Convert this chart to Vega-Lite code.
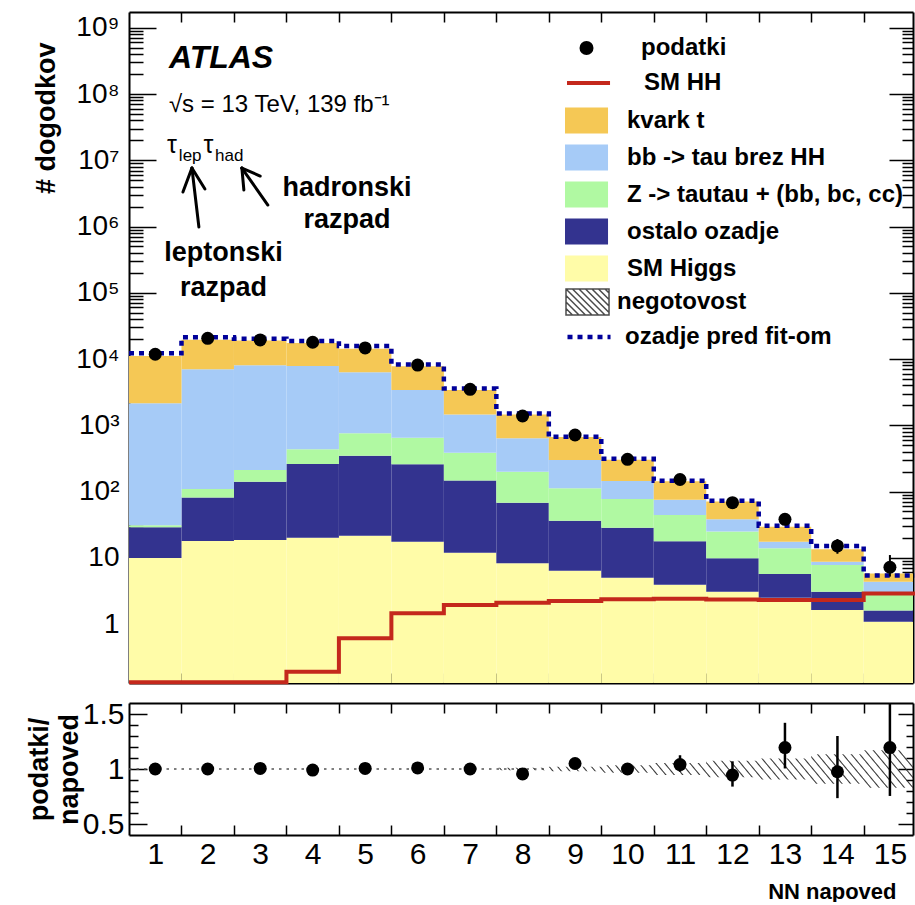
{
  "$schema": "https://vega.github.io/schema/vega-lite/v6.json",
  "padding": {"left": 25, "top": 11, "right": 0, "bottom": 0},
  "background": "white",
  "config": {
    "view": {"stroke": null},
    "font": "Liberation Sans",
    "axis": {"domainColor": "black", "domainWidth": 2, "tickColor": "black", "tickWidth": 1.5, "grid": false, "labelColor": "black", "titleColor": "black", "zindex": 1, "labelOverlap": false, "labelFlush": false, "labelFont": "Liberation Sans", "titleFont": "Liberation Sans"},
    "legend": {"labelFont": "Liberation Sans", "labelFontSize": 24, "labelFontWeight": "bold", "labelColor": "black", "labelLimit": 0, "padding": 0, "direction": "vertical"}
  },
  "datasets": {
    "hist": [
      {"bin": 1, "lo": 0.5, "hi": 1.5, "higgs": 9.9, "other": 29, "ztt": 31, "bbtau": 2150, "top": 11100, "prefit": 12200, "hh": 0.132, "data": 11800, "dlo": 11690, "dhi": 11910},
      {"bin": 2, "lo": 1.5, "hi": 2.5, "higgs": 17.9, "other": 81, "ztt": 109, "bbtau": 7000, "top": 19500, "prefit": 21300, "hh": 0.132, "data": 20500, "dlo": 20360, "dhi": 20640},
      {"bin": 3, "lo": 2.5, "hi": 3.5, "higgs": 18.5, "other": 141, "ztt": 211, "bbtau": 8040, "top": 19000, "prefit": 20300, "hh": 0.132, "data": 19400, "dlo": 19260, "dhi": 19540},
      {"bin": 4, "lo": 3.5, "hi": 4.5, "higgs": 20.1, "other": 260, "ztt": 433, "bbtau": 7840, "top": 17500, "prefit": 18700, "hh": 0.19, "data": 17900, "dlo": 17770, "dhi": 18030},
      {"bin": 5, "lo": 4.5, "hi": 5.5, "higgs": 21.5, "other": 347, "ztt": 755, "bbtau": 6300, "top": 14300, "prefit": 15700, "hh": 0.61, "data": 14700, "dlo": 14580, "dhi": 14820},
      {"bin": 6, "lo": 5.5, "hi": 6.5, "higgs": 17.5, "other": 257, "ztt": 649, "bbtau": 3400, "top": 7800, "prefit": 8300, "hh": 1.45, "data": 8110, "dlo": 8020, "dhi": 8200},
      {"bin": 7, "lo": 6.5, "hi": 7.5, "higgs": 11.9, "other": 147, "ztt": 385, "bbtau": 1460, "top": 3400, "prefit": 3600, "hh": 1.94, "data": 3490, "dlo": 3430, "dhi": 3550},
      {"bin": 8, "lo": 7.5, "hi": 8.5, "higgs": 8.24, "other": 67.8, "ztt": 199, "bbtau": 635, "top": 1450, "prefit": 1510, "hh": 2.1, "data": 1380, "dlo": 1343, "dhi": 1417},
      {"bin": 9, "lo": 8.5, "hi": 9.5, "higgs": 6.38, "other": 36.3, "ztt": 112, "bbtau": 299, "top": 665, "prefit": 671, "hh": 2.22, "data": 713, "dlo": 686, "dhi": 740},
      {"bin": 10, "lo": 9.5, "hi": 10.5, "higgs": 5.0, "other": 28.4, "ztt": 77, "bbtau": 144, "top": 303, "prefit": 312, "hh": 2.36, "data": 306, "dlo": 289, "dhi": 324},
      {"bin": 11, "lo": 10.5, "hi": 11.5, "higgs": 3.9, "other": 17.7, "ztt": 44.2, "bbtau": 75, "top": 143, "prefit": 146, "hh": 2.41, "data": 152, "dlo": 140, "dhi": 165},
      {"bin": 12, "lo": 11.5, "hi": 12.5, "higgs": 3.07, "other": 9.8, "ztt": 25, "bbtau": 38, "top": 71, "prefit": 72.5, "hh": 2.34, "data": 68, "dlo": 60, "dhi": 77},
      {"bin": 13, "lo": 12.5, "hi": 13.5, "higgs": 2.5, "other": 5.7, "ztt": 13.9, "bbtau": 17.5, "top": 29.5, "prefit": 30.5, "hh": 2.3, "data": 38, "dlo": 32, "dhi": 45},
      {"bin": 14, "lo": 13.5, "hi": 14.5, "higgs": 1.63, "other": 3.07, "ztt": 7.8, "bbtau": 8.7, "top": 13.5, "prefit": 15.0, "hh": 2.3, "data": 15.1, "dlo": 11.5, "dhi": 19.2},
      {"bin": 15, "lo": 14.5, "hi": 15.5, "higgs": 1.08, "other": 1.6, "ztt": 3.0, "bbtau": 4.35, "top": 5.8, "prefit": 5.4, "hh": 2.88, "data": 7.2, "dlo": 5.2, "dhi": 11.0}
    ],
    "ratio": [
      {"bin": 1, "lo": 0.5, "hi": 1.5, "r": 1.0, "rlo": 0.99, "rhi": 1.01, "blo": 0.996, "bhi": 1.004},
      {"bin": 2, "lo": 1.5, "hi": 2.5, "r": 1.0, "rlo": 0.99, "rhi": 1.01, "blo": 0.996, "bhi": 1.004},
      {"bin": 3, "lo": 2.5, "hi": 3.5, "r": 1.005, "rlo": 0.995, "rhi": 1.015, "blo": 0.995, "bhi": 1.005},
      {"bin": 4, "lo": 3.5, "hi": 4.5, "r": 0.99, "rlo": 0.98, "rhi": 1.0, "blo": 0.995, "bhi": 1.005},
      {"bin": 5, "lo": 4.5, "hi": 5.5, "r": 1.005, "rlo": 0.995, "rhi": 1.015, "blo": 0.994, "bhi": 1.006},
      {"bin": 6, "lo": 5.5, "hi": 6.5, "r": 1.01, "rlo": 0.998, "rhi": 1.022, "blo": 0.993, "bhi": 1.007},
      {"bin": 7, "lo": 6.5, "hi": 7.5, "r": 1.0, "rlo": 0.985, "rhi": 1.015, "blo": 0.992, "bhi": 1.008},
      {"bin": 8, "lo": 7.5, "hi": 8.5, "r": 0.955, "rlo": 0.93, "rhi": 0.98, "blo": 0.988, "bhi": 1.012},
      {"bin": 9, "lo": 8.5, "hi": 9.5, "r": 1.05, "rlo": 1.015, "rhi": 1.085, "blo": 0.98, "bhi": 1.02},
      {"bin": 10, "lo": 9.5, "hi": 10.5, "r": 1.0, "rlo": 0.96, "rhi": 1.04, "blo": 0.965, "bhi": 1.035},
      {"bin": 11, "lo": 10.5, "hi": 11.5, "r": 1.04, "rlo": 0.975, "rhi": 1.125, "blo": 0.945, "bhi": 1.055},
      {"bin": 12, "lo": 11.5, "hi": 12.5, "r": 0.945, "rlo": 0.84, "rhi": 1.07, "blo": 0.925, "bhi": 1.075},
      {"bin": 13, "lo": 12.5, "hi": 13.5, "r": 1.195, "rlo": 1.005, "rhi": 1.42, "blo": 0.905, "bhi": 1.095},
      {"bin": 14, "lo": 13.5, "hi": 14.5, "r": 0.975, "rlo": 0.735, "rhi": 1.3, "blo": 0.865, "bhi": 1.135},
      {"bin": 15, "lo": 14.5, "hi": 15.5, "r": 1.195, "rlo": 0.755, "rhi": 1.75, "blo": 0.83, "bhi": 1.17}
    ]
  },
  "spacing": 8,
  "vconcat": [
    {
      "width": 784,
      "height": 671,
      "data": {"name": "hist"},
      "resolve": {"axis": {"x": "independent", "y": "independent"}},
      "layer": [
        {
          "mark": {"type": "rect", "clip": true},
          "encoding": {
            "x": {"field": "lo", "type": "quantitative", "scale": {"domain": [0.5, 15.44], "nice": false, "zero": false},
              "axis": {"orient": "bottom", "values": [1.5,2.5,3.5,4.5,5.5,6.5,7.5,8.5,9.5,10.5,11.5,12.5,13.5,14.5], "labels": false, "tickSize": -10, "title": null}},
            "x2": {"field": "hi"},
            "y": {"field": "higgs", "type": "quantitative", "scale": {"type": "log", "domain": [0.1288, 1730000000], "nice": false},
              "axis": {"orient": "left",
                "values": [0.2,0.3,0.4,0.5,0.6,0.7,0.8,0.9,1,2,3,4,5,6,7,8,9,10,20,30,40,50,60,70,80,90,100,200,300,400,500,600,700,800,900,1000,2000,3000,4000,5000,6000,7000,8000,9000,10000,20000,30000,40000,50000,60000,70000,80000,90000,100000,200000,300000,400000,500000,600000,700000,800000,900000,1000000,2000000,3000000,4000000,5000000,6000000,7000000,8000000,9000000,10000000,20000000,30000000,40000000,50000000,60000000,70000000,80000000,90000000,100000000,200000000,300000000,400000000,500000000,600000000,700000000,800000000,900000000,1000000000],
                "tickSize": {"condition": {"test": "indexof([1,10,100,1000,10000,100000,1000000,10000000,100000000,1000000000], datum.value) >= 0", "value": -27}, "value": -14},
                "labelExpr": "datum.value===1?'1':datum.value===10?'10':datum.value===100?'10²':datum.value===1000?'10³':datum.value===10000?'10⁴':datum.value===100000?'10⁵':datum.value===1000000?'10⁶':datum.value===10000000?'10⁷':datum.value===100000000?'10⁸':datum.value===1000000000?'10⁹':''",
                "labelFontSize": 28, "labelPadding": 37,
                "title": "# dogodkov", "titleFontSize": 27, "titleFontWeight": "bold", "titleX": -83, "titleY": 30, "titleAlign": "right", "titleAngle": -90, "titleBaseline": "middle"}},
            "y2": {"datum": 0.1288},
            "color": {"datum": "SM Higgs", "type": "nominal",
              "scale": {"domain": ["kvark t", "bb -> tau brez HH", "Z -> tautau + (bb, bc, cc)", "ostalo ozadje", "SM Higgs"],
                "range": ["#f5c855", "#a6cbf7", "#b0f9a2", "#33338f", "#fffca8"]},
              "legend": {"orient": "none", "legendX": 436, "legendY": 95.5, "title": null, "symbolType": "M-1,-1H2.31V1H-1Z", "symbolSize": 676, "symbolStrokeWidth": 0, "symbolOffset": 0, "labelOffset": 36, "rowPadding": 11}}
          }
        },
        {
          "mark": {"type": "rect", "clip": true},
          "encoding": {
            "x": {"field": "lo", "type": "quantitative",
              "axis": {"orient": "top", "values": [1.5,2.5,3.5,4.5,5.5,6.5,7.5,8.5,9.5,10.5,11.5,12.5,13.5,14.5], "labels": false, "tickSize": -10, "title": null}},
            "x2": {"field": "hi"},
            "y": {"field": "other", "type": "quantitative",
              "axis": {"orient": "right", "labels": false, "title": null,
                "values": [0.2,0.3,0.4,0.5,0.6,0.7,0.8,0.9,1,2,3,4,5,6,7,8,9,10,20,30,40,50,60,70,80,90,100,200,300,400,500,600,700,800,900,1000,2000,3000,4000,5000,6000,7000,8000,9000,10000,20000,30000,40000,50000,60000,70000,80000,90000,100000,200000,300000,400000,500000,600000,700000,800000,900000,1000000,2000000,3000000,4000000,5000000,6000000,7000000,8000000,9000000,10000000,20000000,30000000,40000000,50000000,60000000,70000000,80000000,90000000,100000000,200000000,300000000,400000000,500000000,600000000,700000000,800000000,900000000,1000000000],
                "tickSize": {"condition": {"test": "indexof([1,10,100,1000,10000,100000,1000000,10000000,100000000,1000000000], datum.value) >= 0", "value": -24}, "value": -11}}},
            "y2": {"field": "higgs"},
            "color": {"datum": "ostalo ozadje", "type": "nominal"}
          }
        },
        {
          "mark": {"type": "rect", "clip": true},
          "encoding": {
            "x": {"field": "lo", "type": "quantitative", "axis": null},
            "x2": {"field": "hi"},
            "y": {"field": "ztt", "type": "quantitative", "axis": null},
            "y2": {"field": "other"},
            "color": {"datum": "Z -> tautau + (bb, bc, cc)", "type": "nominal"}
          }
        },
        {
          "mark": {"type": "rect", "clip": true},
          "encoding": {
            "x": {"field": "lo", "type": "quantitative", "axis": null},
            "x2": {"field": "hi"},
            "y": {"field": "bbtau", "type": "quantitative", "axis": null},
            "y2": {"field": "ztt"},
            "color": {"datum": "bb -> tau brez HH", "type": "nominal"}
          }
        },
        {
          "mark": {"type": "rect", "clip": true},
          "encoding": {
            "x": {"field": "lo", "type": "quantitative", "axis": null},
            "x2": {"field": "hi"},
            "y": {"field": "top", "type": "quantitative", "axis": null},
            "y2": {"field": "bbtau"},
            "color": {"datum": "kvark t", "type": "nominal"}
          }
        },
        {
          "transform": [{"fold": ["lo", "hi"], "as": ["side", "edge"]}],
          "mark": {"type": "line", "strokeWidth": 4, "strokeJoin": "miter"},
          "encoding": {
            "x": {"field": "edge", "type": "quantitative", "axis": null},
            "y": {"field": "hh", "type": "quantitative", "axis": null},
            "order": [{"field": "edge", "type": "quantitative"}, {"field": "bin", "type": "quantitative"}],
            "stroke": {"datum": "SM HH", "type": "nominal", "scale": {"domain": ["SM HH"], "range": ["#c4281c"]},
              "legend": {"orient": "none", "legendX": 436, "legendY": 56, "title": null, "symbolType": "M-1,0H2.31", "symbolSize": 676, "symbolStrokeWidth": 4, "symbolOffset": 0, "labelOffset": 49}}
          }
        },
        {
          "transform": [{"fold": ["lo", "hi"], "as": ["side", "edge"]}],
          "mark": {"type": "line", "strokeWidth": 4.5, "color": "#00009a", "strokeJoin": "miter"},
          "encoding": {
            "x": {"field": "edge", "type": "quantitative", "axis": null},
            "y": {"field": "prefit", "type": "quantitative", "axis": null},
            "order": [{"field": "edge", "type": "quantitative"}, {"field": "bin", "type": "quantitative"}],
            "strokeDash": {"datum": "ozadje pred fit-om", "type": "nominal", "scale": {"domain": ["ozadje pred fit-om"], "range": [[5, 5]]},
              "legend": {"orient": "none", "legendX": 436, "legendY": 309.5, "title": null, "symbolType": "M-1,0H2.31", "symbolSize": 676, "symbolStrokeWidth": 4.5, "symbolStrokeColor": "#00009a", "symbolDash": [5, 4], "symbolOffset": 0, "labelOffset": 29}}
          }
        },
        {
          "mark": {"type": "rule", "strokeWidth": 2, "color": "black"},
          "encoding": {
            "x": {"field": "bin", "type": "quantitative", "axis": null},
            "y": {"field": "dlo", "type": "quantitative", "axis": null},
            "y2": {"field": "dhi"}
          }
        },
        {
          "mark": {"type": "point", "filled": true, "size": 169, "opacity": 1, "color": "black"},
          "encoding": {
            "x": {"field": "bin", "type": "quantitative", "axis": null},
            "y": {"field": "data", "type": "quantitative", "axis": null},
            "shape": {"datum": "podatki", "type": "nominal", "scale": {"domain": ["podatki"], "range": ["circle"]},
              "legend": {"orient": "none", "legendX": 445.5, "legendY": 24, "title": null, "symbolSize": 196, "symbolStrokeWidth": 0, "symbolFillColor": "black", "symbolOffset": 0, "labelOffset": 42.5}}
          }
        },
        {
          "data": {"values": []},
          "mark": {"type": "point", "stroke": "black", "strokeWidth": 1.5},
          "encoding": {
            "x": {"datum": 1, "type": "quantitative", "axis": null},
            "y": {"datum": 1, "type": "quantitative", "axis": null},
            "fill": {"datum": "negotovost", "type": "nominal", "scale": {"domain": ["negotovost"], "range": ["transparent"]},
              "legend": {"orient": "none", "legendX": 436, "legendY": 276, "title": null,
                "symbolType": "M-1,-1H2.31V1H-1Z M-1,0.5L-0.5,1 M-1,0L0,1 M-1,-0.5L0.5,1 M-1,-1L1,1 M-0.5,-1L1.5,1 M0,-1L2,1 M0.5,-1L2.31,0.81 M1,-1L2.31,0.31 M1.5,-1L2.31,-0.19 M2,-1L2.31,-0.69",
                "symbolSize": 676, "symbolStrokeWidth": 1.5, "symbolStrokeColor": "black", "symbolFillColor": "transparent", "symbolOffset": 0, "labelOffset": 24}}
          }
        },
        {
          "data": {"values": [{}]},
          "mark": {"type": "text", "text": "ATLAS", "font": "Liberation Sans", "fontSize": 32, "fontWeight": "bold", "fontStyle": "italic", "align": "left", "baseline": "alphabetic", "color": "black"},
          "encoding": {"x": {"datum": 1.261, "type": "quantitative", "axis": null}, "y": {"datum": 247000000, "type": "quantitative", "axis": null}}
        },
        {
          "data": {"values": [{}]},
          "mark": {"type": "text", "text": "√s = 13 TeV, 139 fb⁻¹", "font": "Liberation Sans", "fontSize": 24, "align": "left", "baseline": "alphabetic", "color": "black"},
          "encoding": {"x": {"datum": 1.261, "type": "quantitative", "axis": null}, "y": {"datum": 53500000, "type": "quantitative", "axis": null}}
        },
        {
          "data": {"values": [{}]},
          "mark": {"type": "text", "text": "τ", "font": "Liberation Sans", "fontSize": 25, "align": "left", "baseline": "alphabetic", "color": "black"},
          "encoding": {"x": {"datum": 1.223, "type": "quantitative", "axis": null}, "y": {"datum": 12900000, "type": "quantitative", "axis": null}}
        },
        {
          "data": {"values": [{}]},
          "mark": {"type": "text", "text": "lep", "font": "Liberation Sans", "fontSize": 17, "align": "left", "baseline": "alphabetic", "color": "black"},
          "encoding": {"x": {"datum": 1.45, "type": "quantitative", "axis": null}, "y": {"datum": 9800000, "type": "quantitative", "axis": null}}
        },
        {
          "data": {"values": [{}]},
          "mark": {"type": "text", "text": "τ", "font": "Liberation Sans", "fontSize": 25, "align": "left", "baseline": "alphabetic", "color": "black"},
          "encoding": {"x": {"datum": 1.92, "type": "quantitative", "axis": null}, "y": {"datum": 12900000, "type": "quantitative", "axis": null}}
        },
        {
          "data": {"values": [{}]},
          "mark": {"type": "text", "text": "had", "font": "Liberation Sans", "fontSize": 17, "align": "left", "baseline": "alphabetic", "color": "black"},
          "encoding": {"x": {"datum": 2.14, "type": "quantitative", "axis": null}, "y": {"datum": 9800000, "type": "quantitative", "axis": null}}
        },
        {
          "data": {"values": [{}]},
          "mark": {"type": "text", "text": "hadronski", "font": "Liberation Sans", "fontSize": 27, "fontWeight": "bold", "align": "center", "baseline": "alphabetic", "color": "black"},
          "encoding": {"x": {"datum": 4.655, "type": "quantitative", "axis": null}, "y": {"datum": 2840000, "type": "quantitative", "axis": null}}
        },
        {
          "data": {"values": [{}]},
          "mark": {"type": "text", "text": "razpad", "font": "Liberation Sans", "fontSize": 27, "fontWeight": "bold", "align": "center", "baseline": "alphabetic", "color": "black"},
          "encoding": {"x": {"datum": 4.655, "type": "quantitative", "axis": null}, "y": {"datum": 949000, "type": "quantitative", "axis": null}}
        },
        {
          "data": {"values": [{}]},
          "mark": {"type": "text", "text": "leptonski", "font": "Liberation Sans", "fontSize": 27, "fontWeight": "bold", "align": "center", "baseline": "alphabetic", "color": "black"},
          "encoding": {"x": {"datum": 2.3, "type": "quantitative", "axis": null}, "y": {"datum": 301000, "type": "quantitative", "axis": null}}
        },
        {
          "data": {"values": [{}]},
          "mark": {"type": "text", "text": "razpad", "font": "Liberation Sans", "fontSize": 27, "fontWeight": "bold", "align": "center", "baseline": "alphabetic", "color": "black"},
          "encoding": {"x": {"datum": 2.3, "type": "quantitative", "axis": null}, "y": {"datum": 89300, "type": "quantitative", "axis": null}}
        },
        {
          "data": {"values": [{}]},
          "mark": {"type": "rule", "strokeWidth": 3, "color": "black", "strokeCap": "round"},
          "encoding": {"x": {"datum": 1.832, "type": "quantitative", "axis": null}, "y": {"datum": 983000, "type": "quantitative", "axis": null}, "x2": {"datum": 1.699}, "y2": {"datum": 7640000}}
        },
        {
          "data": {"values": [{}]},
          "mark": {"type": "rule", "strokeWidth": 3, "color": "black", "strokeCap": "round"},
          "encoding": {"x": {"datum": 1.699, "type": "quantitative", "axis": null}, "y": {"datum": 7640000, "type": "quantitative", "axis": null}, "x2": {"datum": 1.528}, "y2": {"datum": 3320000}}
        },
        {
          "data": {"values": [{}]},
          "mark": {"type": "rule", "strokeWidth": 3, "color": "black", "strokeCap": "round"},
          "encoding": {"x": {"datum": 1.699, "type": "quantitative", "axis": null}, "y": {"datum": 7640000, "type": "quantitative", "axis": null}, "x2": {"datum": 1.947}, "y2": {"datum": 3680000}}
        },
        {
          "data": {"values": [{}]},
          "mark": {"type": "rule", "strokeWidth": 3, "color": "black", "strokeCap": "round"},
          "encoding": {"x": {"datum": 3.146, "type": "quantitative", "axis": null}, "y": {"datum": 2110000, "type": "quantitative", "axis": null}, "x2": {"datum": 2.651}, "y2": {"datum": 7640000}}
        },
        {
          "data": {"values": [{}]},
          "mark": {"type": "rule", "strokeWidth": 3, "color": "black", "strokeCap": "round"},
          "encoding": {"x": {"datum": 2.651, "type": "quantitative", "axis": null}, "y": {"datum": 7640000, "type": "quantitative", "axis": null}, "x2": {"datum": 2.689}, "y2": {"datum": 3560000}}
        },
        {
          "data": {"values": [{}]},
          "mark": {"type": "rule", "strokeWidth": 3, "color": "black", "strokeCap": "round"},
          "encoding": {"x": {"datum": 2.651, "type": "quantitative", "axis": null}, "y": {"datum": 7640000, "type": "quantitative", "axis": null}, "x2": {"datum": 3.0}, "y2": {"datum": 5780000}}
        }
      ]
    },
    {
      "width": 784,
      "height": 132,
      "data": {"name": "ratio"},
      "resolve": {"axis": {"x": "independent", "y": "independent"}},
      "layer": [
        {
          "transform": [{"filter": "datum.bin >= 8"}, {"fold": ["lo", "hi"], "as": ["side", "edge"]}],
          "mark": {"type": "area", "clip": true,
            "fill": {"gradient": "linear", "x1": 0, "y1": 0.5, "x2": 1, "y2": 0.4258, "stops": [
              {"offset":0.007,"color":"rgba(0,0,0,0)"},{"offset":0.01,"color":"#3a3a3a"},{"offset":0.013,"color":"rgba(0,0,0,0)"},
              {"offset":0.027,"color":"rgba(0,0,0,0)"},{"offset":0.03,"color":"#3a3a3a"},{"offset":0.033,"color":"rgba(0,0,0,0)"},
              {"offset":0.047,"color":"rgba(0,0,0,0)"},{"offset":0.05,"color":"#3a3a3a"},{"offset":0.053,"color":"rgba(0,0,0,0)"},
              {"offset":0.067,"color":"rgba(0,0,0,0)"},{"offset":0.07,"color":"#3a3a3a"},{"offset":0.073,"color":"rgba(0,0,0,0)"},
              {"offset":0.087,"color":"rgba(0,0,0,0)"},{"offset":0.09,"color":"#3a3a3a"},{"offset":0.093,"color":"rgba(0,0,0,0)"},
              {"offset":0.107,"color":"rgba(0,0,0,0)"},{"offset":0.11,"color":"#3a3a3a"},{"offset":0.113,"color":"rgba(0,0,0,0)"},
              {"offset":0.127,"color":"rgba(0,0,0,0)"},{"offset":0.13,"color":"#3a3a3a"},{"offset":0.133,"color":"rgba(0,0,0,0)"},
              {"offset":0.147,"color":"rgba(0,0,0,0)"},{"offset":0.15,"color":"#3a3a3a"},{"offset":0.153,"color":"rgba(0,0,0,0)"},
              {"offset":0.167,"color":"rgba(0,0,0,0)"},{"offset":0.17,"color":"#3a3a3a"},{"offset":0.173,"color":"rgba(0,0,0,0)"},
              {"offset":0.187,"color":"rgba(0,0,0,0)"},{"offset":0.19,"color":"#3a3a3a"},{"offset":0.193,"color":"rgba(0,0,0,0)"},
              {"offset":0.207,"color":"rgba(0,0,0,0)"},{"offset":0.21,"color":"#3a3a3a"},{"offset":0.213,"color":"rgba(0,0,0,0)"},
              {"offset":0.227,"color":"rgba(0,0,0,0)"},{"offset":0.23,"color":"#3a3a3a"},{"offset":0.233,"color":"rgba(0,0,0,0)"},
              {"offset":0.247,"color":"rgba(0,0,0,0)"},{"offset":0.25,"color":"#3a3a3a"},{"offset":0.253,"color":"rgba(0,0,0,0)"},
              {"offset":0.267,"color":"rgba(0,0,0,0)"},{"offset":0.27,"color":"#3a3a3a"},{"offset":0.273,"color":"rgba(0,0,0,0)"},
              {"offset":0.287,"color":"rgba(0,0,0,0)"},{"offset":0.29,"color":"#3a3a3a"},{"offset":0.293,"color":"rgba(0,0,0,0)"},
              {"offset":0.307,"color":"rgba(0,0,0,0)"},{"offset":0.31,"color":"#3a3a3a"},{"offset":0.313,"color":"rgba(0,0,0,0)"},
              {"offset":0.327,"color":"rgba(0,0,0,0)"},{"offset":0.33,"color":"#3a3a3a"},{"offset":0.333,"color":"rgba(0,0,0,0)"},
              {"offset":0.347,"color":"rgba(0,0,0,0)"},{"offset":0.35,"color":"#3a3a3a"},{"offset":0.353,"color":"rgba(0,0,0,0)"},
              {"offset":0.367,"color":"rgba(0,0,0,0)"},{"offset":0.37,"color":"#3a3a3a"},{"offset":0.373,"color":"rgba(0,0,0,0)"},
              {"offset":0.387,"color":"rgba(0,0,0,0)"},{"offset":0.39,"color":"#3a3a3a"},{"offset":0.393,"color":"rgba(0,0,0,0)"},
              {"offset":0.407,"color":"rgba(0,0,0,0)"},{"offset":0.41,"color":"#3a3a3a"},{"offset":0.413,"color":"rgba(0,0,0,0)"},
              {"offset":0.427,"color":"rgba(0,0,0,0)"},{"offset":0.43,"color":"#3a3a3a"},{"offset":0.433,"color":"rgba(0,0,0,0)"},
              {"offset":0.447,"color":"rgba(0,0,0,0)"},{"offset":0.45,"color":"#3a3a3a"},{"offset":0.453,"color":"rgba(0,0,0,0)"},
              {"offset":0.467,"color":"rgba(0,0,0,0)"},{"offset":0.47,"color":"#3a3a3a"},{"offset":0.473,"color":"rgba(0,0,0,0)"},
              {"offset":0.487,"color":"rgba(0,0,0,0)"},{"offset":0.49,"color":"#3a3a3a"},{"offset":0.493,"color":"rgba(0,0,0,0)"},
              {"offset":0.507,"color":"rgba(0,0,0,0)"},{"offset":0.51,"color":"#3a3a3a"},{"offset":0.513,"color":"rgba(0,0,0,0)"},
              {"offset":0.527,"color":"rgba(0,0,0,0)"},{"offset":0.53,"color":"#3a3a3a"},{"offset":0.533,"color":"rgba(0,0,0,0)"},
              {"offset":0.547,"color":"rgba(0,0,0,0)"},{"offset":0.55,"color":"#3a3a3a"},{"offset":0.553,"color":"rgba(0,0,0,0)"},
              {"offset":0.567,"color":"rgba(0,0,0,0)"},{"offset":0.57,"color":"#3a3a3a"},{"offset":0.573,"color":"rgba(0,0,0,0)"},
              {"offset":0.587,"color":"rgba(0,0,0,0)"},{"offset":0.59,"color":"#3a3a3a"},{"offset":0.593,"color":"rgba(0,0,0,0)"},
              {"offset":0.607,"color":"rgba(0,0,0,0)"},{"offset":0.61,"color":"#3a3a3a"},{"offset":0.613,"color":"rgba(0,0,0,0)"},
              {"offset":0.627,"color":"rgba(0,0,0,0)"},{"offset":0.63,"color":"#3a3a3a"},{"offset":0.633,"color":"rgba(0,0,0,0)"},
              {"offset":0.647,"color":"rgba(0,0,0,0)"},{"offset":0.65,"color":"#3a3a3a"},{"offset":0.653,"color":"rgba(0,0,0,0)"},
              {"offset":0.667,"color":"rgba(0,0,0,0)"},{"offset":0.67,"color":"#3a3a3a"},{"offset":0.673,"color":"rgba(0,0,0,0)"},
              {"offset":0.687,"color":"rgba(0,0,0,0)"},{"offset":0.69,"color":"#3a3a3a"},{"offset":0.693,"color":"rgba(0,0,0,0)"},
              {"offset":0.707,"color":"rgba(0,0,0,0)"},{"offset":0.71,"color":"#3a3a3a"},{"offset":0.713,"color":"rgba(0,0,0,0)"},
              {"offset":0.727,"color":"rgba(0,0,0,0)"},{"offset":0.73,"color":"#3a3a3a"},{"offset":0.733,"color":"rgba(0,0,0,0)"},
              {"offset":0.747,"color":"rgba(0,0,0,0)"},{"offset":0.75,"color":"#3a3a3a"},{"offset":0.753,"color":"rgba(0,0,0,0)"},
              {"offset":0.767,"color":"rgba(0,0,0,0)"},{"offset":0.77,"color":"#3a3a3a"},{"offset":0.773,"color":"rgba(0,0,0,0)"},
              {"offset":0.787,"color":"rgba(0,0,0,0)"},{"offset":0.79,"color":"#3a3a3a"},{"offset":0.793,"color":"rgba(0,0,0,0)"},
              {"offset":0.807,"color":"rgba(0,0,0,0)"},{"offset":0.81,"color":"#3a3a3a"},{"offset":0.813,"color":"rgba(0,0,0,0)"},
              {"offset":0.827,"color":"rgba(0,0,0,0)"},{"offset":0.83,"color":"#3a3a3a"},{"offset":0.833,"color":"rgba(0,0,0,0)"},
              {"offset":0.847,"color":"rgba(0,0,0,0)"},{"offset":0.85,"color":"#3a3a3a"},{"offset":0.853,"color":"rgba(0,0,0,0)"},
              {"offset":0.867,"color":"rgba(0,0,0,0)"},{"offset":0.87,"color":"#3a3a3a"},{"offset":0.873,"color":"rgba(0,0,0,0)"},
              {"offset":0.887,"color":"rgba(0,0,0,0)"},{"offset":0.89,"color":"#3a3a3a"},{"offset":0.893,"color":"rgba(0,0,0,0)"},
              {"offset":0.907,"color":"rgba(0,0,0,0)"},{"offset":0.91,"color":"#3a3a3a"},{"offset":0.913,"color":"rgba(0,0,0,0)"},
              {"offset":0.927,"color":"rgba(0,0,0,0)"},{"offset":0.93,"color":"#3a3a3a"},{"offset":0.933,"color":"rgba(0,0,0,0)"},
              {"offset":0.947,"color":"rgba(0,0,0,0)"},{"offset":0.95,"color":"#3a3a3a"},{"offset":0.953,"color":"rgba(0,0,0,0)"},
              {"offset":0.967,"color":"rgba(0,0,0,0)"},{"offset":0.97,"color":"#3a3a3a"},{"offset":0.973,"color":"rgba(0,0,0,0)"},
              {"offset":0.987,"color":"rgba(0,0,0,0)"},{"offset":0.99,"color":"#3a3a3a"},{"offset":0.993,"color":"rgba(0,0,0,0)"}
            ]}},
          "encoding": {
            "x": {"field": "edge", "type": "quantitative", "scale": {"domain": [0.5, 15.44], "nice": false, "zero": false},
              "axis": {"orient": "bottom", "values": [1,1.5,2,2.5,3,3.5,4,4.5,5,5.5,6,6.5,7,7.5,8,8.5,9,9.5,10,10.5,11,11.5,12,12.5,13,13.5,14,14.5,15],
                "labelExpr": "datum.value % 1 === 0 ? format(datum.value, 'd') : ''",
                "tickOpacity": {"condition": {"test": "datum.value % 1 === 0", "value": 0}, "value": 1},
                "tickSize": -10, "labelFontSize": 30, "labelPadding": 14,
                "title": "NN napoved", "titleFontSize": 22, "titleFontWeight": "bold", "titleX": 767, "titleY": 56, "titleAlign": "right", "titleBaseline": "middle"}},
            "y": {"field": "bhi", "type": "quantitative", "scale": {"domain": [0.4, 1.6], "nice": false, "zero": false},
              "axis": {"orient": "left", "values": [0.5,0.6,0.7,0.8,0.9,1,1.1,1.2,1.3,1.4,1.5],
                "tickSize": {"condition": {"test": "datum.value===0.5||datum.value===1||datum.value===1.5", "value": -18}, "value": -9},
                "labelExpr": "datum.value===0.5?'0.5':datum.value===1?'1':datum.value===1.5?'1.5':''",
                "labelFontSize": 30, "labelPadding": 23,
                "title": ["podatki/", "napoved"], "titleFontSize": 27, "titleFontWeight": "bold", "titleLineHeight": 30,
                "titleX": -90, "titleY": 66, "titleAngle": -90, "titleAlign": "center", "titleBaseline": "middle"}},
            "y2": {"field": "blo"},
            "order": [{"field": "edge", "type": "quantitative"}, {"field": "bin", "type": "quantitative"}]
          }
        },
        {
          "transform": [{"filter": "datum.bin <= 8"}, {"fold": ["lo", "hi"], "as": ["side", "edge"]}],
          "mark": {"type": "line", "stroke": "#555555", "strokeWidth": 1.5, "strokeDash": [2.5, 5]},
          "encoding": {
            "x": {"field": "edge", "type": "quantitative", "axis": null},
            "y": {"datum": 1, "type": "quantitative", "axis": null},
            "order": [{"field": "edge", "type": "quantitative"}, {"field": "bin", "type": "quantitative"}]
          }
        },
        {
          "mark": {"type": "rule", "strokeWidth": 2.5, "color": "black", "clip": true},
          "encoding": {
            "x": {"field": "bin", "type": "quantitative",
              "axis": {"orient": "top", "values": [1.5,2.5,3.5,4.5,5.5,6.5,7.5,8.5,9.5,10.5,11.5,12.5,13.5,14.5], "labels": false, "tickSize": -10, "title": null}},
            "y": {"field": "rlo", "type": "quantitative",
              "axis": {"orient": "right", "values": [0.5,0.6,0.7,0.8,0.9,1,1.1,1.2,1.3,1.4,1.5], "labels": false, "title": null,
                "tickSize": {"condition": {"test": "datum.value===0.5||datum.value===1||datum.value===1.5", "value": -15}, "value": -7}}},
            "y2": {"field": "rhi"}
          }
        },
        {
          "mark": {"type": "point", "filled": true, "size": 169, "opacity": 1, "color": "black"},
          "encoding": {
            "x": {"field": "bin", "type": "quantitative", "axis": null},
            "y": {"field": "r", "type": "quantitative", "axis": null}
          }
        }
      ]
    }
  ]
}
